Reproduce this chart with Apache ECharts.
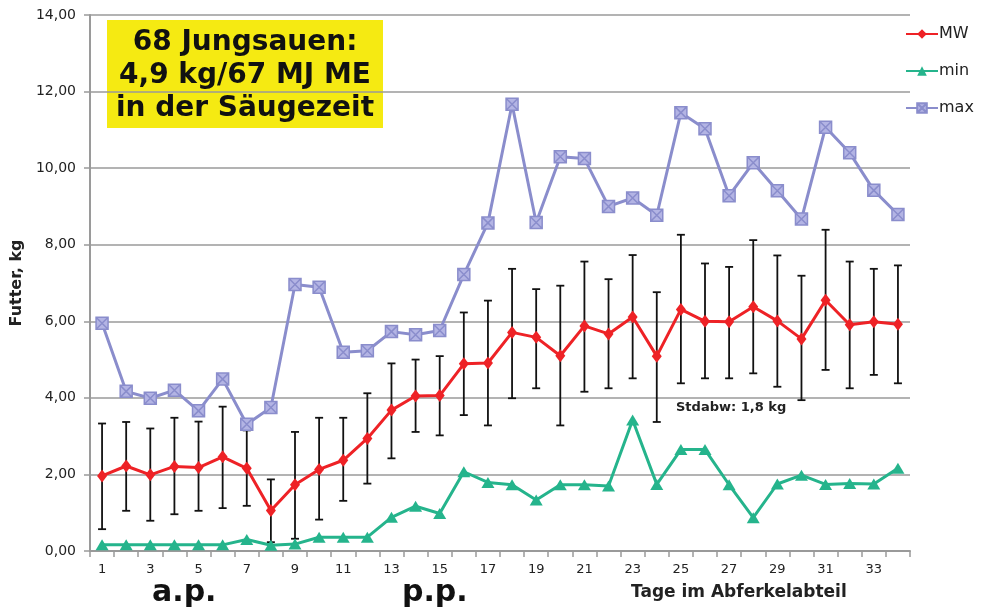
<!DOCTYPE html>
<html><head><meta charset="utf-8">
<script src="https://cdn.jsdelivr.net/npm/echarts@6/dist/echarts.min.js"></script>
<style>html,body{margin:0;padding:0;background:#fff}#c{width:988px;height:615px}</style>
</head><body><div id="c"></div>
<script>
var days = [];
for (var d = 1; d <= 34; d++) days.push(String(d));
var mw = [1.96,2.22,1.99,2.21,2.18,2.46,2.16,1.06,1.73,2.13,2.37,2.94,3.68,4.05,4.06,4.89,4.91,5.71,5.58,5.10,5.88,5.67,6.11,5.09,6.31,6.00,5.99,6.38,6.01,5.54,6.55,5.91,5.99,5.92];
var minV = [0.16,0.16,0.16,0.16,0.16,0.16,0.30,0.15,0.18,0.36,0.36,0.36,0.88,1.17,0.98,2.07,1.79,1.73,1.33,1.73,1.73,1.70,3.42,1.74,2.65,2.65,1.73,0.87,1.75,1.98,1.74,1.76,1.75,2.16];
var maxV = [5.95,4.17,3.99,4.20,3.66,4.49,3.31,3.75,6.96,6.89,5.19,5.23,5.73,5.65,5.76,7.22,8.57,11.67,8.58,10.30,10.25,9.00,9.22,8.77,11.45,11.03,9.28,10.14,9.41,8.67,11.07,10.40,9.42,8.79];
var errHigh = [3.33,3.37,3.20,3.48,3.38,3.77,3.15,1.87,3.11,3.48,3.48,4.12,4.90,5.00,5.09,6.23,6.54,7.37,6.84,6.93,7.56,7.10,7.73,6.76,8.26,7.51,7.42,8.12,7.72,7.19,8.39,7.56,7.37,7.46];
var errLow = [0.57,1.05,0.79,0.96,1.05,1.12,1.18,0.23,0.32,0.82,1.31,1.76,2.42,3.11,3.02,3.55,3.28,3.99,4.25,3.28,4.16,4.25,4.51,3.37,4.38,4.51,4.51,4.64,4.29,3.94,4.73,4.25,4.60,4.38];
var yTicks = ['0,00','2,00','4,00','6,00','8,00','10,00','12,00','14,00'];

var errData = days.map(function(_, i){ return [i, errLow[i], errHigh[i]]; });
var FONT = 'DejaVu Sans';

var chart = echarts.init(document.getElementById('c'), null, {renderer:'canvas'});
chart.setOption({
  animation: false,
  textStyle: {fontFamily: FONT},
  grid: {left: 90, right: 78, top: 15, bottom: 64, containLabel: false},
  legend: {
    orient: 'vertical', left: 900, top: 21, itemGap: 21,
    itemWidth: 32, itemHeight: 12,
    data: ['MW','min','max'],
    textStyle: {fontFamily: FONT, fontSize: 16, color: '#222', padding: [0,0,0,-4]}
  },
  xAxis: {
    type: 'category', data: days, boundaryGap: true,
    axisLine: {lineStyle: {color: '#9a9a9a', width: 2}},
    axisTick: {show: true, interval: 0, length: 6, lineStyle: {color: '#9a9a9a', width: 1.5}},
    axisLabel: {interval: 1, color: '#222', fontSize: 13, fontFamily: FONT, margin: 12}
  },
  yAxis: {
    type: 'value', min: 0, max: 14, interval: 2,
    name: 'Futter, kg', nameLocation: 'middle', nameRotate: 90, nameGap: 64,
    nameTextStyle: {fontFamily: FONT, fontSize: 16, fontWeight: 'bold', color: '#222'},
    axisLine: {show: true, lineStyle: {color: '#9a9a9a', width: 2}},
    axisTick: {show: true, length: 6, lineStyle: {color: '#9a9a9a', width: 1.5}},
    splitLine: {lineStyle: {color: '#9a9a9a', width: 1.5}},
    axisLabel: {color: '#222', fontSize: 14, fontFamily: FONT, margin: 14,
      formatter: function(v){ return yTicks[Math.round(v/2)]; }}
  },
  series: [
    {
      name: 'err', type: 'custom', z: 1, data: errData,
      renderItem: function(params, api){
        var x = api.value(0);
        var lo = api.coord([x, api.value(1)]);
        var hi = api.coord([x, api.value(2)]);
        var w = 4;
        var st = {stroke: '#111', lineWidth: 1.8};
        return {type: 'group', children: [
          {type: 'line', shape: {x1: lo[0], y1: lo[1], x2: hi[0], y2: hi[1]}, style: st},
          {type: 'line', shape: {x1: hi[0]-w, y1: hi[1], x2: hi[0]+w, y2: hi[1]}, style: st},
          {type: 'line', shape: {x1: lo[0]-w, y1: lo[1], x2: lo[0]+w, y2: lo[1]}, style: st}
        ]};
      }
    },
    {
      name: 'MW', type: 'line', z: 5, data: mw,
      symbol: 'diamond', symbolSize: [10, 13],
      lineStyle: {color: '#ee2226', width: 3},
      itemStyle: {color: '#ee2226'}
    },
    {
      name: 'min', type: 'line', z: 4, data: minV,
      symbol: 'triangle', symbolSize: [13, 11],
      lineStyle: {color: '#25b48c', width: 3},
      itemStyle: {color: '#25b48c'}
    },
    {
      name: 'max', type: 'line', z: 3, data: maxV,
      symbol: 'path://M0,0H10V10H0Z M0,0L10,10 M10,0L0,10', symbolSize: 12,
      lineStyle: {color: '#8a8dcc', width: 3},
      itemStyle: {color: '#b3b4e4', borderColor: '#8a8dcc', borderWidth: 1.5}
    }
  ],
  graphic: [
    {type: 'group', left: 107, top: 20, z: 10, children: [
      {type: 'rect', shape: {x: 0, y: 0, width: 276, height: 108}, style: {fill: '#f5ea12'}},
      {type: 'text', x: 138, y: 6,
        style: {text: '68 Jungsauen:\n4,9 kg/67 MJ ME\nin der Säugezeit', align: 'center', verticalAlign: 'top',
          font: 'bold 28px "DejaVu Sans"', lineHeight: 33, fill: '#111'}}
    ]},
    {type: 'text', left: 676, top: 401, z: 11,
      style: {text: 'Stdabw: 1,8 kg', font: 'bold 13px "DejaVu Sans"', fill: '#222'}},
    {type: 'text', left: 152, top: 578, z: 11,
      style: {text: 'a.p.', font: 'bold 30px "DejaVu Sans"', fill: '#111'}},
    {type: 'text', left: 402, top: 578, z: 11,
      style: {text: 'p.p.', font: 'bold 30px "DejaVu Sans"', fill: '#111'}},
    {type: 'text', left: 631, top: 584, z: 11,
      style: {text: 'Tage im Abferkelabteil', font: 'bold 17px "DejaVu Sans"', fill: '#222'}}
  ]
});
</script>
</body></html>
